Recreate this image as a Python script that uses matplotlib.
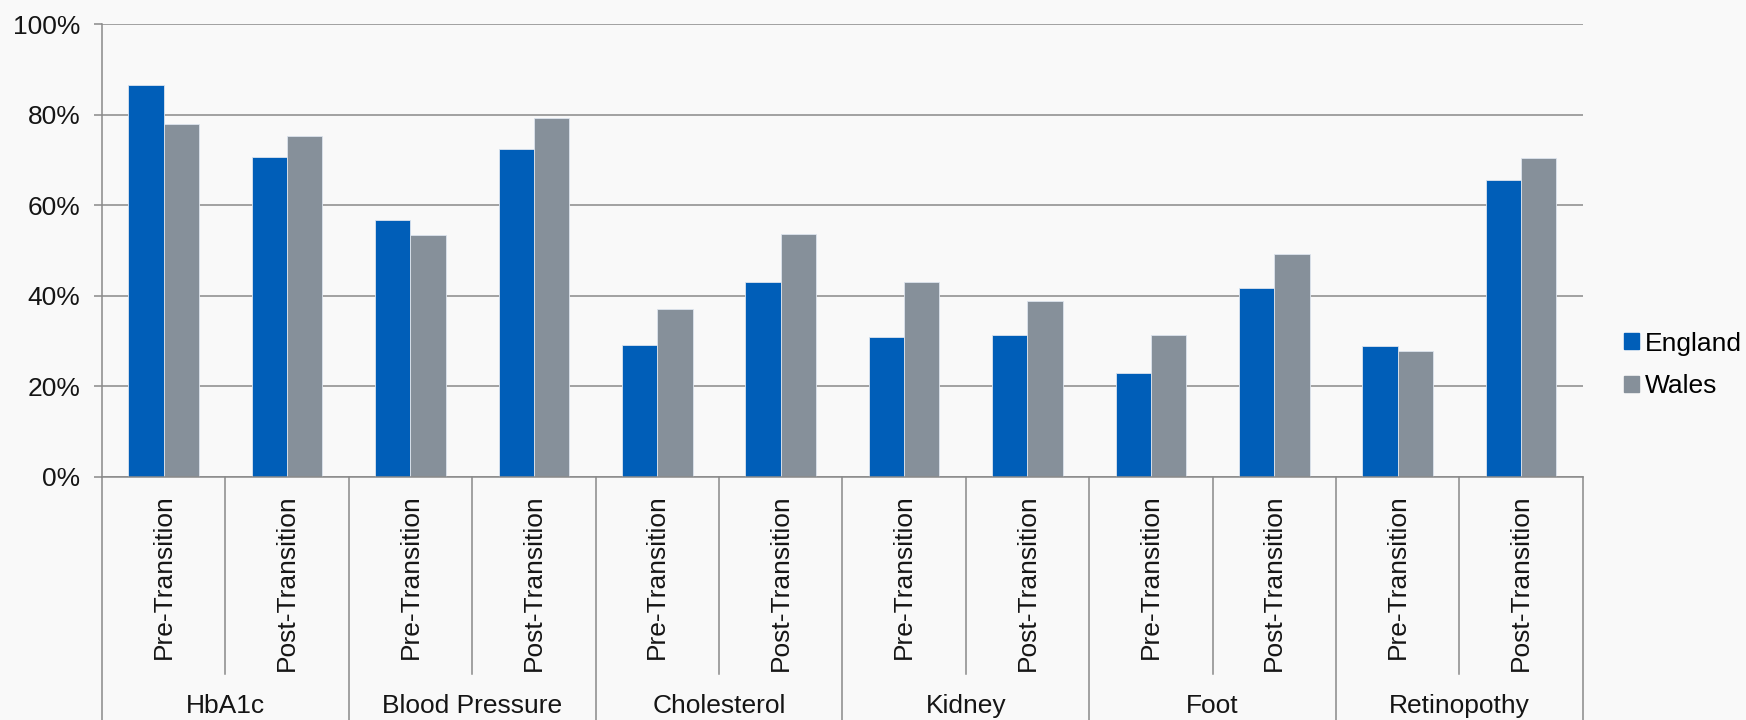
import numpy as np
import matplotlib.pyplot as plt
import matplotlib.transforms as mtransforms
from matplotlib.patches import Patch

plt.rcParams['font.family'] = ['Liberation Sans', 'DejaVu Sans']

# data (% of patients)
groups = ['HbA1c', 'Blood Pressure', 'Cholesterol', 'Kidney', 'Foot', 'Retinopothy']
phases = ['Pre-Transition', 'Post-Transition']
england = [86.6, 70.6, 56.8, 72.3, 29.0, 43.1, 30.9, 31.4, 22.8, 41.7, 28.8, 65.6]
wales = [77.9, 75.3, 53.4, 79.2, 37.1, 53.7, 43.0, 38.8, 31.2, 49.2, 27.8, 70.3]
y_ticks = [0, 20, 40, 60, 80, 100]

bg = '#f9f9f9'
blue = '#005eb8'
grey = '#86909a'
line_col = '#8a8a8a'
txt = '#151515'
fs = 19

W, H = 1746, 720
fig = plt.figure(figsize=(W / 100, H / 100), dpi=100, facecolor=bg)
left, right, top, bottom = 102, 1582.7, 24, 476.7
ax = fig.add_axes([left / W, 1 - bottom / H, (right - left) / W, (bottom - top) / H])
ax.set_facecolor(bg)

n = len(england)
x = np.arange(n)
w = 0.286
ax.bar(x - w / 2, england, w, color=blue, edgecolor='#dce4ee', linewidth=0.6, label='England')
ax.bar(x + w / 2, wales, w, color=grey, edgecolor='#dce4ee', linewidth=0.6, label='Wales')

ax.set_xlim(-0.5, n - 0.5)
ax.set_ylim(0, 100)
ax.set_yticks(y_ticks)
ax.set_yticklabels([f'{t}%' for t in y_ticks], fontsize=fs, color=txt)
ax.tick_params(axis='y', length=5.5, width=1.1, color=line_col, pad=10)
ax.set_xticks([])
ax.yaxis.grid(True, color=line_col, linewidth=1.1)
ax.set_axisbelow(True)
for s in ['top', 'right']:
    ax.spines[s].set_visible(False)
for s in ['left', 'bottom']:
    ax.spines[s].set_color(line_col)
    ax.spines[s].set_linewidth(1.1)

# hierarchical category axis
px = bottom - top
def yfrac(ypix):
    return (bottom - ypix) / px

trans = mtransforms.blended_transform_factory(ax.transData, ax.transAxes)
for k in range(n + 1):
    xb = k - 0.5
    y_end = yfrac(725) if k % 2 == 0 else yfrac(674)
    ax.plot([xb, xb], [0, y_end], color=line_col, linewidth=1.1,
            transform=trans, clip_on=False)

for i in range(n):
    ax.text(i, yfrac(494), phases[i % 2], rotation=90, ha='center', va='top',
            fontsize=fs, color=txt, transform=trans)

for g, name in enumerate(groups):
    ax.text(2 * g + 0.5, yfrac(706), name, ha='center', va='center',
            fontsize=fs, color=txt, transform=trans)

handles = [Patch(color=blue), Patch(color=grey)]
fig.legend(handles, ['England', 'Wales'], loc='center left',
           bbox_to_anchor=(1611 / W, 1 - 365 / H), frameon=False,
           fontsize=fs, handlelength=0.55, handleheight=0.55,
           handletextpad=0.25, labelspacing=0.7, borderpad=0)

fig.savefig('out.png', dpi=100, facecolor=bg)
